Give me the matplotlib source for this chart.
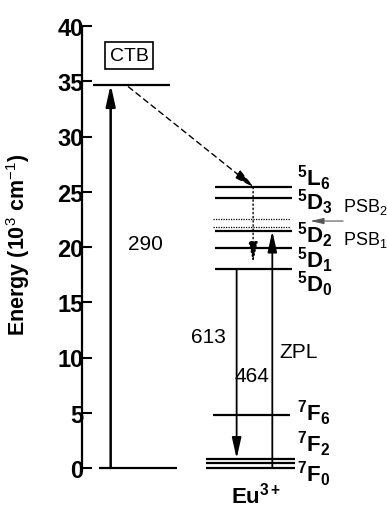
import matplotlib
matplotlib.use('Agg')
import matplotlib.pyplot as plt

plt.rcParams['font.family'] = ['Liberation Sans', 'DejaVu Sans']
plt.rcParams['mathtext.fontset'] = 'custom'
plt.rcParams['mathtext.rm'] = 'Liberation Sans'
plt.rcParams['mathtext.bf'] = 'Liberation Sans:bold'
plt.rcParams['mathtext.it'] = 'Liberation Sans:italic'

# Eu3+ levels, energies in 10^3 cm^-1
ctb_energy = 34.7
excited_labels = [r'$\mathbf{^{5}L_{6}}$', r'$\mathbf{^{5}D_{3}}$', r'$\mathbf{^{5}D_{2}}$',
                  r'$\mathbf{^{5}D_{1}}$', r'$\mathbf{^{5}D_{0}}$']
excited_energies = [25.4, 24.4, 21.45, 19.9, 18.0]
psb_labels = [r'PSB$_2$', r'PSB$_1$']
psb_energies = [22.5, 21.8]
ground_labels = [r'$\mathbf{^{7}F_{6}}$', r'$\mathbf{^{7}F_{2}}$', '', r'$\mathbf{^{7}F_{0}}$']
ground_energies = [4.8, 0.85, 0.45, 0.0]
relax_end = 18.6          # end of the non-radiative cascade
transition_labels = ['290', '613', '464', 'ZPL']
yticks = [0, 5, 10, 15, 20, 25, 30, 35, 40]

fig = plt.figure(figsize=(3.87, 5.06), dpi=100)
ax = fig.add_axes([82 / 387, 1 - 469 / 506, 305 / 387, 442 / 506])
ax.set_xlim(0, 100)
ax.set_ylim(0, 40)

for s in ['top', 'right', 'bottom']:
    ax.spines[s].set_visible(False)
ax.spines['left'].set_linewidth(1.6)
ax.set_xticks([])
ax.set_yticks(yticks)
ax.set_yticklabels([str(t) for t in yticks], fontsize=17, fontweight='bold')
ax.tick_params(axis='y', direction='in', length=7, width=1.5, pad=-1)
ax.set_ylabel(r'Energy (10$^{3}$ cm$^{-1}$)', fontsize=15.5, fontweight='bold')
ax.yaxis.set_label_coords(-0.165, 0.507)

lw = 1.6
# host side: ground and charge transfer band
ax.hlines(0, 5.6, 31.1, color='k', lw=lw, clip_on=False)
ax.hlines(ctb_energy, 3.7, 28.9, color='k', lw=lw)
ax.text(15.4, 37.3, 'CTB', fontsize=14, ha='center', va='center',
        bbox=dict(boxstyle='square,pad=0.25', fc='white', ec='k', lw=1.2))

# Eu3+ levels
ax.hlines(excited_energies, 43.6, 69.0, color='k', lw=lw)
ax.hlines(psb_energies, 42.9, 68.2, color='k', lw=0.9, linestyles=(0, (1, 1)))
ax.hlines(ground_energies[0], 43.0, 68.2, color='k', lw=lw)
ax.hlines(ground_energies[1:], 40.7, 69.8, color='k', lw=lw, clip_on=False)

exc_offsets = [0.9, -0.3, -0.3, -1.0, -1.3]
for lab, e, dy in zip(excited_labels, excited_energies, exc_offsets):
    ax.text(70.5, e + dy, lab, fontsize=16, ha='left', va='center')
gnd_offsets = [0.25, 1.4, 0, -0.5]
for lab, e, dy in zip(ground_labels, ground_energies, gnd_offsets):
    if lab:
        ax.text(70.5, e + dy, lab, fontsize=16, ha='left', va='center')

head = '-|>,head_length=0.9,head_width=0.2'


def arrow(x0, y0, x1, y1, **kw):
    props = dict(arrowstyle=head, color='k', lw=1.4, mutation_scale=14,
                 shrinkA=0, shrinkB=0)
    props.update(kw)
    ax.annotate('', xy=(x1, y1), xytext=(x0, y0), arrowprops=props,
                annotation_clip=False)


# 290 nm excitation into the CTB
arrow(9.4, 0, 9.4, ctb_energy, lw=1.8)
# CTB -> 5L6 transfer and cascade down to 5D0
arrow(15.2, ctb_energy - 0.2, 56.4, excited_energies[0], lw=1.0, linestyle=(0, (4, 3)))
arrow(56.1, excited_energies[0], 56.1, relax_end, lw=1.0, linestyle=(0, (1, 2)))
# 613 nm emission 5D0 -> 7F2
arrow(50.7, excited_energies[4], 50.7, ground_energies[1], lw=1.3)
# 464 nm ZPL excitation 7F0 -> 5D2
arrow(62.4, ground_energies[3], 62.4, excited_energies[2], lw=1.3)
# pointer to the phonon side bands
arrow(85.6, 22.35, 74.8, 22.35, lw=0.8, color='#555555', mutation_scale=9)

ax.text(85.6, 23.7, psb_labels[0], fontsize=13, ha='left', va='center', clip_on=False)
ax.text(85.6, 20.7, psb_labels[1], fontsize=13, ha='left', va='center', clip_on=False)

ax.text(20.7, 20.3, transition_labels[0], fontsize=15, ha='center', va='center')
ax.text(41.3, 11.9, transition_labels[1], fontsize=15, ha='center', va='center')
ax.text(55.6, 8.35, transition_labels[2], fontsize=15, ha='center', va='center')
ax.text(71.1, 10.5, transition_labels[3], fontsize=15, ha='center', va='center')

ax.text(49.0, -2.4, r'Eu$^{\mathbf{3+}}$', fontsize=16, fontweight='bold',
        ha='left', va='center')

fig.savefig('out.png', dpi=100)
